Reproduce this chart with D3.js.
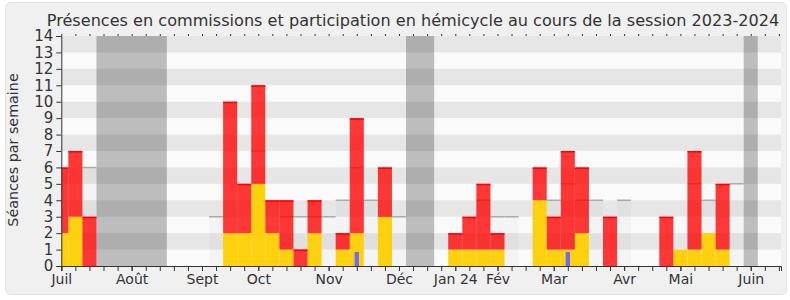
<!DOCTYPE html>
<html><head><meta charset="utf-8">
<script src="https://cdn.jsdelivr.net/npm/d3@7/dist/d3.min.js"></script>
<style>
body{margin:0;background:#fff}
text{font-family:"DejaVu Sans",sans-serif;fill:#333}
</style>
</head><body>
<svg id="c" width="790" height="300"></svg>
<script>
// Weekly data, session 2023-2024 (week 0 = first week of July 2023)
const commissions = [2,3,0,0,0,0,0,0,0,0, 0,0,2,2,5,2,1,0,2,0, 1,2,0,3,0,0,0,0,1,1, 1,1,0,0,4,1,1,2,0,0, 0,0,0,0,1,1,2,1,0,0, 0,0];
const hemicycle   = [4,4,3,0,0,0,0,0,0,0, 0,0,8,3,6,2,3,1,2,0, 1,7,0,3,0,0,0,0,1,2, 4,1,0,0,2,2,6,4,0,3, 0,0,0,3,0,6,0,4,0,0, 0,0];
const questions   = [0,0,0,0,0,0,0,0,0,0, 0,0,0,0,0,0,0,0,0,0, 0,0.85,0,0,0,0,0,0,0,0, 0,0,0,0,0,0,0.85,0,0,0, 0,0,0,0,0,0,0,0,0,0, 0,0];
const medians     = [null,null,6,null,null,null,null,null,null,null, null,3,null,null,7,null,3,3,3,3, 4,6,4,3,3,null,null,null,null,null, 4,3,3,null,null,4,5,4,4,null, 4,null,null,null,null,5,4,null,5,null, null,null];
const vacances = [3,4,5,6,7,25,26,49];
const monthLabels = ["Juil","Août","Sept","Oct","Nov","Déc","Jan 24","Fév","Mar","Avr","Mai","Juin"];
const monthWeeks  = [0,5,10,14,19,24,28,31,35,40,44,49];
const yTicks = d3.range(0, 15);
const titleText = "Présences en commissions et participation en hémicycle au cours de la session 2023-2024";
const yLabel = "Séances par semaine";

const svg = d3.select("#c");
const L = 61.3, R = 781, T = 36, B = 266;
const nWeeks = commissions.length;
const x = d3.scaleLinear().domain([0, 51.15]).range([L, R]);
const y = d3.scaleLinear().domain([0, 14]).range([B, T]);
const bw = x(1) - x(0);

// frame
svg.append("rect").attr("x",5.5).attr("y",2.5).attr("width",781).attr("height",292)
  .attr("rx",5).attr("fill","#f0f0f0").attr("stroke","#e2e2e2");

svg.append("defs").append("clipPath").attr("id","clip")
  .append("rect").attr("x",L).attr("y",T).attr("width",R-L).attr("height",B-T);

const g = svg.append("g").attr("clip-path","url(#clip)");
g.append("rect").attr("x",L).attr("y",T).attr("width",R-L).attr("height",B-T).attr("fill","#fafafa");

// vacances (merged into contiguous runs)
const runs = [];
vacances.forEach(w => {
  const last = runs[runs.length-1];
  if (last && last[1] === w - 1) last[1] = w; else runs.push([w, w]);
});
g.selectAll(".vac").data(runs).join("rect")
  .attr("x", d => x(d[0]-0.5)).attr("width", d => x(d[1]+0.5) - x(d[0]-0.5))
  .attr("y", T).attr("height", B-T).attr("fill","#bdbdbd");

// horizontal bands
g.selectAll(".band").data(yTicks.filter(k => k % 2 === 1 && k < 14)).join("rect")
  .attr("x", L).attr("width", R-L)
  .attr("y", d => y(d+1)).attr("height", d => y(d) - y(d+1))
  .attr("fill","rgba(0,0,0,0.08)");

const wk = d3.range(nWeeks);
// median fills and lines
const med = wk.filter(i => medians[i] != null);
g.selectAll(".mfill").data(med).join("rect")
  .attr("x", i => x(i-0.5)).attr("width", bw)
  .attr("y", i => y(medians[i])).attr("height", i => y(0) - y(medians[i]))
  .attr("fill","rgba(0,0,0,0.025)");
g.selectAll(".mline").data(med).join("line")
  .attr("x1", i => x(i-0.5)).attr("x2", i => x(i+0.5))
  .attr("y1", i => y(medians[i])).attr("y2", i => y(medians[i]))
  .attr("stroke","#aaa").attr("stroke-width",1.5);

// commissions (yellow)
g.selectAll(".com").data(wk.filter(i => commissions[i] > 0)).join("rect")
  .attr("x", i => x(i-0.5)).attr("width", bw)
  .attr("y", i => y(commissions[i])).attr("height", i => y(0) - y(commissions[i]))
  .attr("fill","#fdd10e");

// hemicycle (red)
const hw = wk.filter(i => hemicycle[i] > 0);
g.selectAll(".hem").data(hw).join("rect")
  .attr("x", i => x(i-0.5)).attr("width", bw)
  .attr("y", i => y(commissions[i] + hemicycle[i]))
  .attr("height", i => y(commissions[i]) - y(commissions[i] + hemicycle[i]))
  .attr("fill","rgba(255,0,0,0.78)");
g.selectAll(".hemtop").data(hw).join("line")
  .attr("x1", i => x(i-0.5)).attr("x2", i => x(i+0.5))
  .attr("y1", i => y(commissions[i] + hemicycle[i]) + 0.75)
  .attr("y2", i => y(commissions[i] + hemicycle[i]) + 0.75)
  .attr("stroke","#f00").attr("stroke-width",1.5);

// questions (blue)
g.selectAll(".q").data(wk.filter(i => questions[i] > 0)).join("rect")
  .attr("x", i => x(i) - bw*0.15).attr("width", bw*0.3)
  .attr("y", i => y(questions[i])).attr("height", i => y(0) - y(questions[i]))
  .attr("fill","#6a6aff");

// axes
svg.append("g").attr("transform",`translate(0,${B})`)
  .call(d3.axisBottom(x).tickValues(wk).tickSize(5).tickFormat(""));
const axl = svg.append("g").attr("transform",`translate(0,${B})`)
  .call(d3.axisBottom(x).tickValues(monthWeeks).tickSize(5)
    .tickFormat((d,i) => monthLabels[i]));
axl.select(".domain").remove();
axl.selectAll(".tick text").attr("font-size",14);
const at = svg.append("g").attr("transform",`translate(0,${T})`)
  .call(d3.axisTop(x).tickValues(wk).tickSize(2).tickFormat(""));
at.select(".domain").remove();
const ay = svg.append("g").attr("transform",`translate(${L},0)`)
  .call(d3.axisLeft(y).tickValues(yTicks).tickSize(5));
ay.selectAll(".tick text").attr("font-size",15);
svg.selectAll(".domain, .tick line").attr("stroke","#333");
svg.selectAll(".tick text").attr("font-family","DejaVu Sans").attr("fill","#333");

// title and y label
svg.append("text").attr("x",413).attr("y",26).attr("text-anchor","middle")
  .attr("font-size",16.1).text(titleText);
svg.append("text").attr("transform","translate(17.5,150) rotate(-90)")
  .attr("text-anchor","middle").attr("font-size",14.3).text(yLabel);
</script>
</body></html>
